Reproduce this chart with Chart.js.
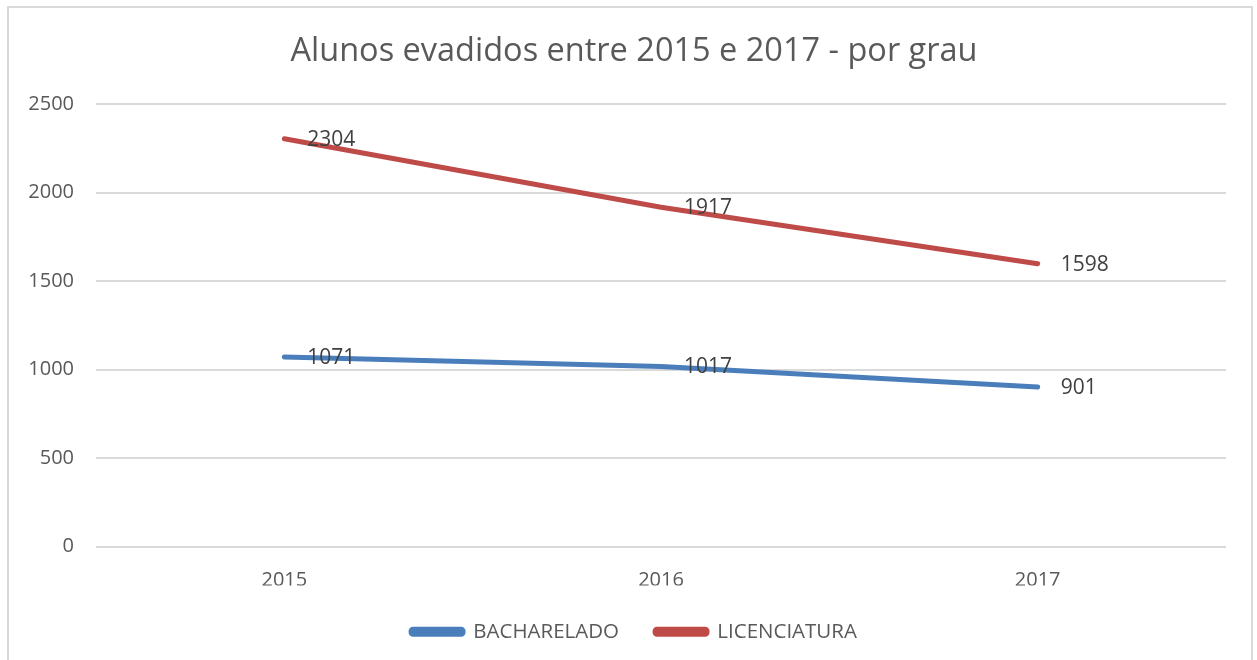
<!DOCTYPE html>
<html>
<head>
<meta charset="utf-8">
<script src="https://cdn.jsdelivr.net/npm/chart.js@4"></script>
<style>
  body { margin: 0; background: #fff; }
  #wrap { position: relative; width: 1257px; height: 660px; }
  #frame { position: absolute; left: 7px; top: 6px; width: 1246px; height: 680px; border: 2px solid #d9d9d9; box-sizing: border-box; }
</style>
</head>
<body>
<div id="wrap">
  <div id="frame"></div>
  <canvas id="line_chart" width="1257" height="660"></canvas>
</div>
<script>
var years = ['2015', '2016', '2017'];
var bacharelado = [1071, 1017, 901];
var licenciatura = [2304, 1917, 1598];
var title = 'Alunos evadidos entre 2015 e 2017 - por grau';

var font_family = "'Open Sans', 'Noto Sans', sans-serif";
var text_color = '#595959';

// labels to the right of each point, like the spreadsheet does
var value_labels = {
    id: 'value_labels',
    afterDatasetsDraw: function(chart) {
        var ctx = chart.ctx;
        ctx.save();
        ctx.font = '21px ' + font_family;
        ctx.fillStyle = '#404040';
        ctx.textAlign = 'left';
        ctx.textBaseline = 'middle';
        chart.data.datasets.forEach(function(ds, i) {
            var meta = chart.getDatasetMeta(i);
            meta.data.forEach(function(pt, j) {
                ctx.fillText(ds.data[j], pt.x + 23, pt.y + 1);
            });
        });
        ctx.restore();
    }
};

function create_dataset(label, data, color) {
    return {
        label: label,
        data: data,
        borderColor: color,
        backgroundColor: color,
        borderWidth: 5,
        borderCapStyle: 'round',
        pointRadius: 0,
        pointHoverRadius: 0,
        tension: 0,
        yAxisID: 'y'
    };
}

var ctx = document.getElementById('line_chart');
new Chart(ctx, {
    type: 'line',
    data: {
        labels: years,
        datasets: [
            create_dataset('BACHARELADO', bacharelado, '#4a7ebb'),
            create_dataset('LICENCIATURA', licenciatura, '#be4b48')
        ]
    },
    plugins: [value_labels],
    options: {
        responsive: false,
        animation: false,
        layout: { padding: { left: 11, right: 0, top: 20, bottom: 8 } },
        plugins: {
            title: {
                display: true,
                text: title,
                color: text_color,
                font: { family: font_family, size: 32.5, weight: 'normal' },
                padding: { top: 12, bottom: 33 }
            },
            legend: {
                display: true,
                position: 'bottom',
                labels: {
                    color: text_color,
                    font: { family: font_family, size: 20.5 },
                    boxWidth: 52,
                    boxHeight: 5,
                    useBorderRadius: true,
                    borderRadius: 2,
                    padding: 36
                }
            },
            tooltip: { enabled: false }
        },
        scales: {
            x: {
                offset: true,
                grid: { display: false },
                border: { display: false },
                ticks: {
                    color: text_color,
                    font: { family: font_family, size: 20 },
                    padding: 14
                },
                afterFit: function(scale) { scale.height = 39; }
            },
            y: {
                min: 0,
                max: 2500,
                ticks: {
                    stepSize: 500,
                    color: text_color,
                    font: { family: font_family, size: 20 },
                    padding: 22,
                    callback: function(v) { return String(v); }
                },
                grid: { color: '#d9d9d9', lineWidth: 2, drawTicks: false },
                border: { display: false },
                afterFit: function(scale) { scale.width = 85; }
            },
            // empty space on the right of the plot
            y_right: {
                position: 'right',
                display: true,
                min: 0,
                max: 2500,
                grid: { display: false },
                border: { display: false },
                ticks: { display: false },
                afterFit: function(scale) { scale.width = 31; }
            }
        }
    }
});
</script>
</body>
</html>
